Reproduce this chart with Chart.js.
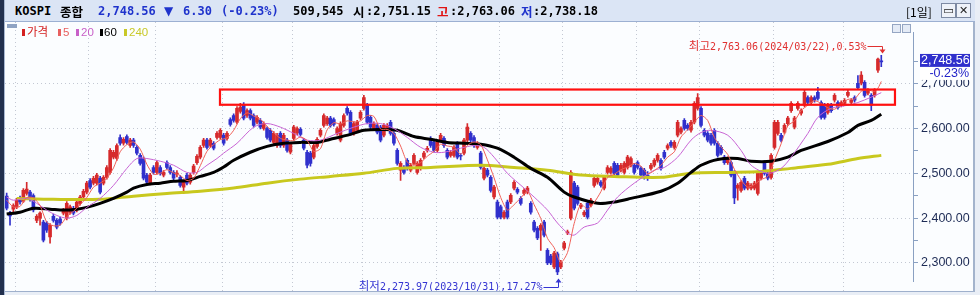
<!DOCTYPE html>
<html><head><meta charset="utf-8">
<script src="https://cdn.jsdelivr.net/npm/chart.js@4.4.1/dist/chart.umd.min.js"></script>
<style>
html,body{margin:0;padding:0;background:#e9eef6;}
#wrap{position:relative;width:980px;height:295px;overflow:hidden;background:#e9eef6;}
.abs{position:absolute;white-space:nowrap;}
#leftbar{left:0;top:0;width:4px;height:295px;background:#22304e;}
#leftline{left:4px;top:0;width:1px;height:295px;background:#a8b8d2;}
#header{left:5px;top:0;width:970px;height:21px;background:#dbe5f5;border-bottom:1px solid #9cb0d2;}
#panel{left:5px;top:22px;width:968px;height:269px;background:#fbfdff;}
#bottomline{left:5px;top:291px;width:970px;height:1px;background:#9fb0cc;z-index:5;}
#rborder{left:973px;top:22px;width:2px;height:270px;background:#a3b3cc;z-index:5;}
#cwrap{left:5px;top:22px;width:970px;height:270px;z-index:3;}
.h{top:3px;font:bold 12px "DejaVu Sans Mono","Noto Sans CJK KR",monospace;line-height:17px;color:#000;z-index:4;}
.hk{font-family:"Noto Sans CJK KR",sans-serif;font-weight:bold;font-size:12.5px;}
.blue{color:#1f33cc;}
.red{color:#e01414;}
.lg{top:25px;font:11.5px "Liberation Sans","Noto Sans CJK KR",sans-serif;line-height:14px;z-index:4;}
.bar{top:29px;width:3px;height:7px;z-index:4;}
.btn{top:3px;width:13px;height:13px;border:1px solid #7d8aa3;background:#eef2f9;z-index:4;font:bold 11px "DejaVu Sans";line-height:13px;text-align:center;color:#222;}
.ic{top:24px;width:7px;height:7px;border:1px solid #95a6c3;background:#e4ebf6;z-index:4;}
</style></head>
<body>
<div id="wrap">
  <div class="abs" id="leftbar"></div>
  <div class="abs" id="leftline"></div>
  <div class="abs" id="header"></div>
  <div class="abs" id="panel"></div>
  <div class="abs" id="bottomline"></div>

  <span class="abs h" style="left:15px;">KOSPI</span>
  <span class="abs h hk" style="left:60px;">종합</span>
  <span class="abs h blue" style="left:98px;">2,748.56</span>
  <span class="abs h blue" style="left:164px;font-family:'DejaVu Sans';">▼</span>
  <span class="abs h blue" style="left:183px;">6.30</span>
  <span class="abs h blue" style="left:221px;">(-0.23%)</span>
  <span class="abs h" style="left:293px;">509,545</span>
  <span class="abs h hk" style="left:353px;">시</span>
  <span class="abs h" style="left:366px;">:2,751.15</span>
  <span class="abs h hk red" style="left:437px;">고</span>
  <span class="abs h" style="left:450px;">:2,763.06</span>
  <span class="abs h hk blue" style="left:521px;">저</span>
  <span class="abs h" style="left:533px;">:2,738.18</span>
  <span class="abs h" style="left:906px;font-weight:normal;font-family:'Noto Sans CJK KR';font-size:12px;">[1일]</span>
  <div class="abs btn" style="left:941px;">▭</div>
  <div class="abs btn" style="left:956px;">✕</div>

  <div class="abs" style="left:7px;top:24px;width:10px;height:4px;background:#8fa3c3;z-index:4;"></div>
  <div class="abs bar" style="left:22px;background:#d42020;"></div>
  <span class="abs lg" style="left:27px;color:#d42020;">가격</span>
  <div class="abs bar" style="left:58px;background:#e86060;"></div>
  <span class="abs lg" style="left:63px;color:#e86060;">5</span>
  <div class="abs bar" style="left:76px;background:#c860c8;"></div>
  <span class="abs lg" style="left:81px;color:#c860c8;">20</span>
  <div class="abs bar" style="left:100px;background:#000;"></div>
  <span class="abs lg" style="left:104px;color:#000;">60</span>
  <div class="abs bar" style="left:124px;background:#c8c828;"></div>
  <span class="abs lg" style="left:129px;color:#c8c828;">240</span>
  <div class="abs ic" style="left:892px;"></div>
  <div class="abs ic" style="left:902px;"></div>

  <div class="abs" id="cwrap"><canvas id="c" width="970" height="270"></canvas></div>
  <div class="abs" id="rborder"></div>
</div>
<script>
// ---- data (daily candles, 2023/02 .. 2024/03/22) ----
const opens = [
2449,2411,2420,2425,2445,2438,2455,2458,2450,2395,
2400,2391,2389,2358,2404,2395,2398,2411,2400,2413,
2422,2418,2433,2447,2458,2484,2478,2478,2489,2478,
2491,2502,2536,2533,2580,2567,2582,2562,2574,2558,
2540,2533,2496,2478,2513,2502,2513,2496,2524,2513,
2502,2498,2491,2469,2496,2480,2502,2524,2536,2562,
2574,2562,2567,2580,2580,2585,2578,2620,2629,2614,
2638,2652,2629,2640,2629,2614,2618,2600,2600,2596,
2569,2562,2589,2562,2574,2547,2578,2590,2598,2574,
2547,2545,2536,2560,2585,2607,2611,2623,2620,2589,
2574,2607,2645,2636,2589,2596,2623,2645,2652,2625,
2600,2607,2603,2585,2600,2614,2589,2551,2507,2513,
2529,2507,2522,2502,2511,2536,2551,2578,2569,2551,
2574,2578,2551,2540,2540,2567,2540,2545,2574,2589,
2580,2558,2545,2489,2507,2491,2447,2436,2425,2402,
2436,2436,2467,2464,2444,2455,2458,2433,2391,2377,
2373,2391,2328,2315,2291,2320,2291,2333,2367,2400,
2478,2469,2425,2407,2433,2429,2473,2480,2480,2467,
2502,2502,2522,2518,2507,2502,2513,2518,2518,2524,
2511,2507,2496,2511,2518,2529,2529,2547,2556,2569,
2558,2585,2592,2618,2607,2596,2614,2645,2645,2596,
2589,2585,2596,2567,2558,2536,2524,2524,2502,2467,
2462,2489,2467,2467,2467,2455,2489,2524,2500,2491,
2558,2589,2585,2592,2611,2640,2603,2645,2634,2652,
2669,2658,2669,2681,2658,2652,2636,2652,2663,2658,
2652,2656,2674,2658,2669,2701,2701,2703,2679,2674,
2674,2730,2751.15];
const highs = [
2456,2415,2432,2444,2449,2466,2480,2462,2454,2408,
2414,2395,2393,2388,2409,2399,2402,2422,2437,2429,
2426,2440,2451,2464,2482,2488,2493,2500,2493,2495,
2517,2555,2551,2566,2586,2580,2586,2578,2578,2562,
2544,2537,2500,2500,2517,2528,2517,2506,2528,2517,
2506,2506,2495,2484,2500,2500,2520,2542,2562,2578,
2578,2578,2571,2593,2600,2589,2593,2624,2633,2649,
2656,2658,2644,2644,2633,2629,2622,2615,2604,2600,
2593,2589,2593,2589,2578,2569,2607,2604,2602,2578,
2551,2549,2566,2580,2600,2633,2627,2627,2624,2604,
2615,2633,2649,2640,2615,2618,2640,2674,2656,2629,
2615,2611,2607,2611,2611,2618,2593,2555,2526,2517,
2533,2522,2544,2526,2533,2549,2560,2582,2573,2573,
2589,2582,2555,2551,2562,2571,2544,2578,2611,2593,
2584,2571,2549,2515,2511,2495,2473,2440,2429,2417,
2440,2455,2484,2468,2448,2466,2471,2437,2395,2381,
2388,2395,2332,2319,2326,2324,2306,2348,2373,2506,
2482,2473,2433,2417,2437,2444,2493,2493,2484,2495,
2517,2515,2526,2522,2522,2526,2540,2537,2522,2528,
2515,2511,2504,2522,2533,2544,2533,2551,2566,2573,
2573,2618,2604,2622,2611,2618,2660,2678,2649,2600,
2593,2589,2600,2571,2562,2540,2537,2528,2506,2477,
2484,2493,2482,2477,2482,2504,2504,2528,2504,2544,
2618,2618,2589,2611,2627,2660,2627,2660,2644,2685,
2673,2673,2673,2692,2662,2656,2656,2656,2678,2662,
2662,2667,2685,2667,2673,2718,2727,2707,2689,2678,
2689,2757,2763.06];
const lows = [
2418,2384,2414,2421,2431,2435,2451,2438,2414,2390,
2384,2347,2368,2344,2391,2376,2384,2407,2396,2409,
2407,2414,2429,2443,2454,2465,2474,2474,2454,2474,
2487,2498,2532,2529,2563,2563,2565,2558,2558,2541,
2518,2485,2476,2474,2498,2498,2496,2492,2509,2498,
2485,2492,2469,2455,2474,2476,2498,2520,2532,2558,
2554,2558,2552,2576,2576,2563,2574,2605,2614,2610,
2634,2619,2625,2619,2603,2610,2599,2596,2576,2570,
2565,2558,2558,2558,2547,2543,2574,2586,2583,2552,
2512,2516,2532,2556,2581,2603,2607,2603,2605,2585,
2570,2603,2630,2585,2585,2592,2619,2641,2610,2599,
2596,2588,2570,2581,2596,2585,2563,2518,2484,2498,
2507,2503,2518,2498,2507,2532,2547,2558,2547,2547,
2570,2558,2532,2536,2536,2532,2530,2541,2570,2570,
2558,2554,2509,2485,2492,2458,2443,2398,2398,2398,
2398,2432,2463,2454,2429,2451,2454,2409,2369,2352,
2328,2358,2296,2296,2287,2274,2287,2329,2363,2396,
2418,2429,2421,2403,2398,2425,2469,2476,2469,2463,
2498,2498,2496,2492,2503,2498,2509,2514,2498,2509,
2492,2487,2484,2507,2514,2525,2507,2532,2552,2558,
2554,2581,2588,2596,2596,2592,2610,2641,2603,2581,
2570,2563,2563,2536,2541,2520,2520,2492,2432,2440,
2458,2463,2463,2463,2463,2451,2485,2496,2485,2487,
2554,2585,2570,2588,2607,2636,2599,2641,2630,2648,
2654,2654,2659,2663,2621,2621,2632,2636,2659,2643,
2648,2652,2670,2654,2659,2687,2697,2670,2675,2640,
2670,2725,2738.18];
const closes = [
2422,2405,2428,2440,2436,2462,2465,2442,2418,2404,
2411,2351,2373,2384,2395,2380,2389,2418,2433,2425,
2411,2436,2447,2460,2478,2469,2489,2496,2458,2491,
2513,2551,2547,2562,2567,2576,2569,2574,2562,2545,
2522,2489,2480,2496,2502,2524,2500,2502,2513,2502,
2489,2500,2473,2480,2478,2496,2516,2538,2558,2574,
2558,2574,2556,2589,2596,2567,2589,2609,2618,2645,
2648,2623,2640,2623,2607,2625,2603,2611,2580,2574,
2589,2585,2562,2585,2551,2565,2603,2600,2587,2556,
2518,2522,2562,2576,2596,2629,2623,2607,2609,2600,
2611,2629,2634,2589,2611,2614,2636,2669,2614,2603,
2611,2592,2574,2607,2607,2589,2567,2522,2522,2502,
2511,2518,2540,2522,2529,2545,2556,2562,2551,2569,
2585,2562,2536,2547,2558,2536,2538,2574,2603,2574,
2562,2567,2513,2511,2496,2462,2469,2402,2402,2413,
2402,2451,2480,2458,2433,2462,2467,2413,2373,2356,
2384,2362,2300,2300,2322,2280,2302,2344,2369,2502,
2422,2433,2429,2413,2402,2440,2489,2489,2473,2491,
2513,2511,2500,2496,2518,2522,2536,2533,2502,2513,
2496,2491,2494,2518,2529,2540,2511,2536,2562,2562,
2569,2614,2600,2600,2600,2614,2656,2669,2607,2585,
2574,2567,2567,2540,2545,2524,2533,2496,2445,2473,
2480,2467,2478,2473,2478,2500,2500,2500,2489,2540,
2614,2614,2574,2607,2623,2656,2623,2656,2640,2681,
2658,2669,2663,2667,2625,2625,2652,2640,2674,2647,
2658,2663,2681,2663,2663,2691,2719,2674,2685,2652,
2685,2755,2748.56];

// moving averages: [candle index, value]
const ma5 = [[0,2440],[2,2425],[4,2426],[6,2446],[8,2445],[10,2428],[12,2391],[14,2383],[16,2384],[18,2403],[20,2415],[22,2430],[24,2446],[26,2469],[28,2478],[30,2489],[32,2512],[34,2548],[36,2564],[38,2570],[40,2554],[42,2520],[44,2498],[46,2500],[48,2508],[50,2501],[52,2495],[54,2484],[56,2489],[58,2517],[60,2549],[62,2564],[64,2575],[66,2579],[68,2596],[70,2622],[72,2635],[74,2628],[76,2620],[78,2605],[80,2591],[82,2578],[84,2574],[86,2573],[88,2581],[90,2573],[92,2549],[94,2555],[96,2597],[98,2613],[100,2610],[102,2617],[104,2615],[106,2617],[108,2629],[110,2627],[112,2599],[114,2598],[116,2589],[118,2561],[120,2525],[122,2519],[124,2524],[126,2538],[128,2549],[130,2565],[132,2561],[134,2558],[136,2543],[138,2562],[140,2570],[142,2564],[144,2530],[146,2490],[148,2446],[150,2418],[152,2430],[154,2445],[156,2460],[158,2430],[160,2399],[162,2355],[164,2334],[166,2301],[168,2323],[170,2388],[172,2431],[174,2420],[176,2435],[178,2459],[180,2491],[182,2498],[184,2508],[186,2514],[188,2522],[190,2516],[192,2499],[194,2506],[196,2518],[198,2536],[200,2548],[202,2581],[204,2597],[206,2614],[208,2629],[210,2618],[212,2580],[214,2559],[216,2542],[218,2509],[220,2485],[222,2469],[224,2475],[226,2486],[228,2493],[230,2529],[232,2566],[234,2606],[236,2617],[238,2640],[240,2652],[242,2662],[244,2656],[246,2646],[248,2643],[250,2654],[252,2665],[254,2666],[256,2683],[258,2686],[260,2683],[261,2690],[262,2705]];
const ma20 = [[0,2447],[2,2440],[6,2444],[9,2433],[12,2418],[15,2406],[18,2400],[21,2406],[24,2424],[28,2444],[32,2473],[36,2511],[39,2533],[42,2533],[46,2527],[50,2518],[54,2502],[57,2502],[60,2518],[63,2533],[65,2545],[69,2567],[74,2603],[78,2611],[82,2603],[86,2589],[90,2574],[94,2574],[99,2589],[104,2603],[108,2611],[112,2611],[116,2600],[120,2580],[124,2558],[128,2547],[131,2547],[136,2556],[140,2562],[143,2558],[146,2536],[150,2500],[155,2467],[158,2447],[162,2418],[165,2389],[168,2367],[170,2362],[173,2380],[177,2389],[180,2418],[183,2447],[188,2478],[194,2507],[197,2513],[201,2536],[205,2574],[208,2591],[211,2596],[216,2585],[220,2551],[223,2518],[228,2500],[232,2511],[235,2536],[240,2589],[243,2625],[247,2645],[252,2652],[255,2658],[259,2670],[262,2680]];
const ma60 = [[0,2409],[4,2413],[8,2422],[13,2420],[17,2418],[21,2420],[24,2424],[28,2433],[32,2444],[36,2458],[38,2467],[42,2475],[46,2478],[50,2482],[54,2484],[58,2493],[62,2502],[65,2514],[68,2529],[73,2547],[78,2560],[83,2567],[88,2569],[93,2569],[97,2576],[103,2587],[107,2596],[112,2598],[117,2596],[122,2582],[127,2576],[132,2569],[137,2567],[142,2565],[147,2556],[152,2536],[157,2511],[162,2491],[167,2458],[170,2447],[177,2433],[182,2436],[187,2444],[196,2460],[201,2478],[205,2502],[208,2518],[213,2531],[219,2533],[223,2527],[229,2527],[234,2536],[238,2551],[246,2571],[252,2591],[255,2607],[259,2618],[262,2632]];
const ma240 = [[3,2444],[14,2442],[28,2442],[38,2449],[48,2455],[58,2460],[68,2467],[78,2478],[88,2487],[97,2493],[107,2500],[117,2511],[127,2513],[142,2518],[152,2513],[162,2507],[172,2496],[182,2493],[196,2491],[205,2500],[216,2502],[226,2504],[235,2511],[246,2520],[255,2533],[262,2540]];

const monthStarts = [2,24,44,64,85,106,128,147,166,188,207,229,250];
const GRID_SHIFT = 0.5;
const yTicks = [2250,2300,2350,2400,2450,2500,2550,2600,2650,2700,2750];
const highMark = {index:262, value:2763.06, text:'2,763.06(2024/03/22),0.53%', label:'최고'};
const lowMark  = {index:165, value:2273.97, text:'2,273.97(2023/10/31),17.27%', label:'최저'};
const zone = {from:63.9, to:266.1, top:2687, bottom:2653};
const lastPrice = 2748.56, lastChange = '-0.23%';

const REF_HI = {value:2700, px:61.7}, REF_LO = {value:2300, px:240.9};
const SLOTS = 272;
let Y_MIN = 2235, Y_MAX = 2838;
const RED = '#d62a2c', BLUE = '#3030cc';
const idx = closes.map((_, i) => i);
const candleColors = closes.map((c, i) => c >= opens[i] ? RED : BLUE);
const fmt = v => Number(v).toLocaleString('en-US', {minimumFractionDigits:2, maximumFractionDigits:2});

const overlay = {
  id:'overlay',
  beforeDatasetsDraw(chart){
    const {ctx, scales:{x}} = chart;
    ctx.save();
    ctx.strokeStyle = '#c3c8d3'; ctx.lineWidth = 1; ctx.setLineDash([1,3]);
    monthStarts.forEach(m => {
      const px = Math.round(x.getPixelForValue(m + GRID_SHIFT)) + 0.5;
      ctx.beginPath(); ctx.moveTo(px, 0); ctx.lineTo(px, chart.height); ctx.stroke();
    });
    ctx.restore();
  },
  afterDatasetsDraw(chart){
    const {ctx, chartArea:a, scales:{x, y}} = chart;
    ctx.save();
    const x1 = x.getPixelForValue(zone.from), x2 = x.getPixelForValue(zone.to);
    const y1 = y.getPixelForValue(zone.top), y2 = y.getPixelForValue(zone.bottom);
    ctx.strokeStyle = '#ff1010'; ctx.lineWidth = 2.2;
    ctx.strokeRect(x1, y1, x2 - x1, y2 - y1);

    const drawMark = (m, color, above) => {
      const px = x.getPixelForValue(m.index), py = y.getPixelForValue(m.value);
      ctx.fillStyle = color; ctx.strokeStyle = color; ctx.lineWidth = 1;
      const lineY = above ? py - 9 : py + 12;
      const tipY = above ? py - 3 : py + 5;
      const ax = Math.round(px) + 1.5;
      ctx.beginPath(); ctx.moveTo(ax - 15, Math.round(lineY) + 0.5); ctx.lineTo(ax, Math.round(lineY) + 0.5); ctx.lineTo(ax, tipY); ctx.stroke();
      ctx.beginPath();
      if (above) { ctx.moveTo(ax - 3, tipY - 3); ctx.lineTo(ax + 3, tipY - 3); ctx.lineTo(ax, tipY + 1); }
      else { ctx.moveTo(ax - 3, tipY + 3); ctx.lineTo(ax + 3, tipY + 3); ctx.lineTo(ax, tipY - 1); }
      ctx.fill();
      const fontA = '10px "DejaVu Sans Mono"', fontK = '11.5px "Noto Sans CJK KR"';
      ctx.font = fontA; const wA = ctx.measureText(m.text).width;
      ctx.font = fontK; const wK = ctx.measureText(m.label).width;
      const right = ax - 16;
      const base = above ? lineY + 4 : lineY + 3;
      ctx.textBaseline = 'alphabetic'; ctx.textAlign = 'left';
      ctx.font = fontK; ctx.fillText(m.label, right - wA - wK, base);
      ctx.font = fontA; ctx.fillText(m.text, right - wA, base);
    };
    drawMark(highMark, '#e03030', true);
    drawMark(lowMark, '#3434d2', false);

    const ty = y.getPixelForValue(lastPrice);
    const lx = a.right + 8;
    ctx.fillStyle = '#2f2fcc';
    ctx.fillRect(lx - 1, ty - 8, 50, 13);
    ctx.fillStyle = '#ffffff';
    ctx.font = '12.5px "Liberation Sans"'; ctx.textBaseline = 'middle'; ctx.textAlign = 'left';
    ctx.fillText(fmt(lastPrice), lx, ty - 1.5);
    ctx.fillRect(lx - 1, ty + 5, 50, 13);
    ctx.fillStyle = '#2424c8'; ctx.textAlign = 'right';
    ctx.fillText(lastChange, lx + 48, ty + 11.5);
    ctx.restore();
  }
};

const chart = new Chart(document.getElementById('c'), {
  data: {
    datasets: [
      {type:'line', data: ma5.map(([i,v]) => ({x:i, y:v})), borderColor:'#f06058', borderWidth:1, pointRadius:0, tension:0.25, order:1},
      {type:'line', data: ma20.map(([i,v]) => ({x:i, y:v})), borderColor:'#c864d4', borderWidth:1, pointRadius:0, tension:0.3, order:2},
      {type:'line', data: ma60.map(([i,v]) => ({x:i, y:v})), borderColor:'#000000', borderWidth:3, pointRadius:0, tension:0.3, order:3},
      {type:'line', data: ma240.map(([i,v]) => ({x:i, y:v})), borderColor:'#c8c81e', borderWidth:3, pointRadius:0, tension:0.3, order:4},
      {type:'bar', data: idx.map(i => ({x:i, y:[lows[i], highs[i]]})), backgroundColor:candleColors, barThickness:1, grouped:false, borderWidth:0, order:6},
      {type:'bar', data: idx.map(i => ({x:i, y:[opens[i], closes[i]]})), backgroundColor:candleColors, barThickness:3, minBarLength:1, grouped:false, borderWidth:0, order:5}
    ]
  },
  options: {
    responsive:false, animation:false, maintainAspectRatio:false,
    layout:{padding:0, autoPadding:false},
    plugins:{legend:{display:false}, tooltip:{enabled:false}},
    scales:{
      x:{type:'linear', display:false, min:-0.5, max:SLOTS - 0.5, offset:false},
      y:{position:'right', min:Y_MIN, max:Y_MAX,
         afterBuildTicks: s => { s.ticks = yTicks.filter(v => v >= s.min && v <= s.max).map(v => ({value:v})); },
         afterFit: s => { s.width = 62; },
         grid:{color: c => (c.tick && c.tick.value % 100 === 0) ? '#c3c8d3' : 'rgba(0,0,0,0)', tickColor:'#8aa0c2', tickLength:5, lineWidth:1, drawTicks:true},
         border:{display:true, color:'#8aa0c2', width:1, dash:[1,3]},
         ticks:{padding:3, color:'#1d2b55', font:{family:'Liberation Sans', size:12.5}, callback: v => v % 100 === 0 ? fmt(v) : ''}
      }
    }
  },
  plugins:[overlay]
});

(function calibrate(){
  const ys = chart.scales.y;
  const pTop = ys.getPixelForValue(Y_MAX), pBot = ys.getPixelForValue(Y_MIN);
  const pxPerUnit = (REF_LO.px - REF_HI.px) / (REF_HI.value - REF_LO.value);
  Y_MAX = REF_HI.value + (REF_HI.px - pTop) / pxPerUnit;
  Y_MIN = REF_LO.value - (pBot - REF_LO.px) / pxPerUnit;
  chart.options.scales.y.min = Y_MIN;
  chart.options.scales.y.max = Y_MAX;
  chart.update('none');
})();
</script>
</body></html>
